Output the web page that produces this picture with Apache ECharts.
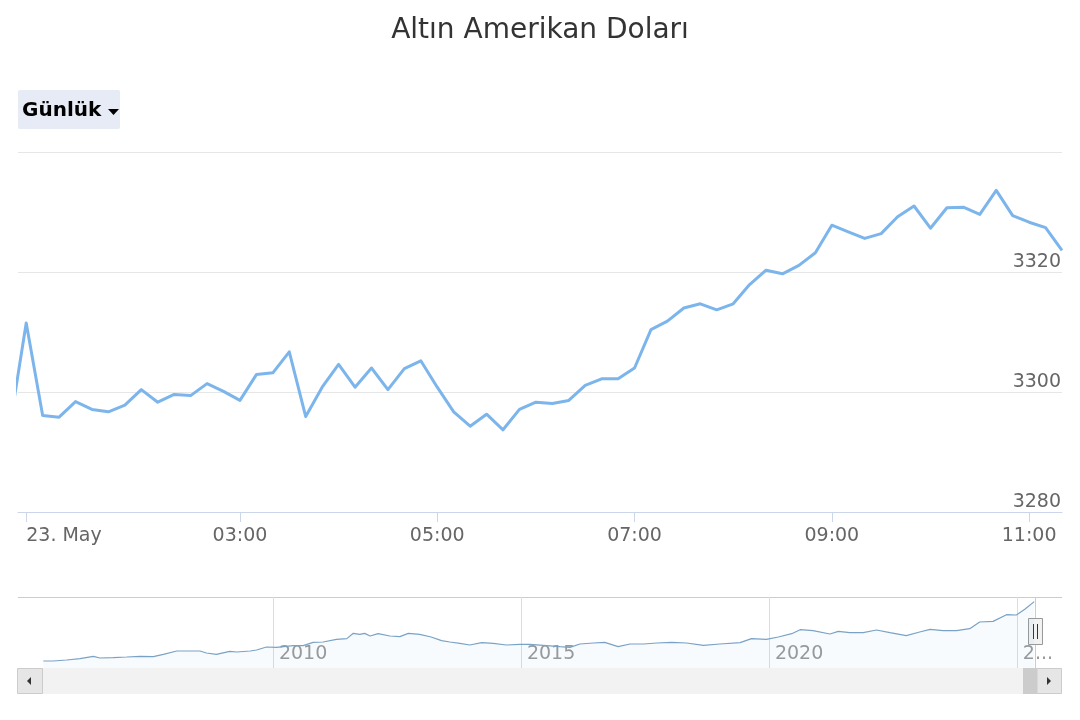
<!DOCTYPE html>
<html><head><meta charset="utf-8">
<script src="https://cdn.jsdelivr.net/npm/echarts@6/dist/echarts.min.js"></script>
<style>html,body{margin:0;padding:0;background:#fff}#c{width:1080px;height:720px}</style>
</head><body><div id="c"></div>
<script>
const chartTitle = 'Altın Amerikan Doları';
const rangeLabel = 'Günlük';

// Intraday prices (ordinal positions, one point every ~10 minutes); first value sits just left of view
const prices = [3294.2, 3311.5, 3296.1, 3295.8, 3298.4, 3297.1, 3296.7, 3297.8, 3300.4, 3298.3,
  3299.6, 3299.4, 3301.4, 3300.1, 3298.6, 3302.9, 3303.2, 3306.7, 3295.9, 3300.8,
  3304.6, 3300.8, 3304.0, 3300.4, 3303.9, 3305.2, 3300.8, 3296.7, 3294.3, 3296.3,
  3293.7, 3297.1, 3298.3, 3298.1, 3298.6, 3301.1, 3302.2, 3302.2, 3304.0, 3310.4,
  3311.8, 3314.0, 3314.7, 3313.7, 3314.7, 3317.9, 3320.3, 3319.7, 3321.1, 3323.2,
  3327.8, 3326.7, 3325.6, 3326.4, 3329.2, 3331.0, 3327.3, 3330.7, 3330.8, 3329.6,
  3333.6, 3329.4, 3328.3, 3327.4, 3323.6];
const firstIndex = -1;
const timeTickIndex = [0, 13, 25, 37, 49, 61];
const timeTickLabels = ['23. May', '03:00', '05:00', '07:00', '09:00', '11:00'];
const priceTicks = [3280, 3300, 3320, 3340];

// Navigator: long-term history (decimal years, USD)
const navYears = [2005.37, 2005.57, 2005.84, 2006.11, 2006.38, 2006.51, 2006.78, 2007.05, 2007.32, 2007.59,
  2007.79, 2008.06, 2008.26, 2008.53, 2008.66, 2008.86, 2009.13, 2009.27, 2009.54, 2009.67,
  2009.87, 2010.07, 2010.41, 2010.61, 2010.81, 2011.01, 2011.28, 2011.49, 2011.62, 2011.75,
  2011.85, 2011.96, 2012.12, 2012.36, 2012.56, 2012.73, 2012.96, 2013.19, 2013.40, 2013.57,
  2013.77, 2013.97, 2014.21, 2014.44, 2014.71, 2014.98, 2015.18, 2015.45, 2015.79, 2015.99,
  2016.19, 2016.46, 2016.69, 2016.96, 2017.20, 2017.47, 2017.74, 2018.04, 2018.34, 2018.68,
  2019.01, 2019.42, 2019.65, 2019.95, 2020.19, 2020.46, 2020.63, 2020.89, 2021.23, 2021.40,
  2021.63, 2021.90, 2022.17, 2022.44, 2022.77, 2023.04, 2023.25, 2023.51, 2023.78, 2024.05,
  2024.25, 2024.52, 2024.79, 2024.99, 2025.16, 2025.35];
const navPrices = [422, 422, 471, 536, 651, 569, 586, 618, 651, 635,
  749, 913, 913, 913, 815, 749, 896, 864, 913, 962,
  1109, 1093, 1174, 1174, 1338, 1354, 1485, 1518, 1779, 1730,
  1779, 1648, 1762, 1648, 1616, 1779, 1730, 1599, 1420, 1354,
  1289, 1207, 1321, 1289, 1207, 1240, 1240, 1191, 1125, 1093,
  1256, 1305, 1338, 1125, 1256, 1256, 1305, 1338, 1305, 1191,
  1256, 1321, 1518, 1485, 1599, 1762, 1958, 1909, 1746, 1877,
  1811, 1811, 1942, 1811, 1664, 1844, 1975, 1909, 1909, 2007,
  2334, 2367, 2694, 2678, 2956, 3333];
const navTickYears = [2010, 2015, 2020, 2025];
const navTickLabels = ['2010', '2015', '2020', '2...'];

const FONT = 'DejaVu Sans';
const mainData = prices.map((v, i) => [firstIndex + i, v]);
const navData = navYears.map((y, i) => [y, navPrices[i]]);

const chart = echarts.init(document.getElementById('c'), null, {renderer: 'canvas'});
const option = {
  animation: false,
  backgroundColor: '#ffffff',
  title: {
    text: chartTitle, left: 'center', top: 12,
    textStyle: {fontFamily: FONT, fontSize: 28, fontWeight: 'normal', color: '#333333'}
  },
  grid: [
    {left: 18, right: 18, top: 152, height: 360},
    {left: 18, right: 18, top: 597, height: 71}
  ],
  xAxis: [
    {
      gridIndex: 0, type: 'value', min: -0.5, max: 63,
      axisLine: {show: true, lineStyle: {color: '#ccd6eb', width: 1}},
      axisTick: {show: true, customValues: timeTickIndex, length: 10, lineStyle: {color: '#ccd6eb'}},
      axisLabel: {
        customValues: timeTickIndex,
        formatter: v => timeTickLabels[timeTickIndex.indexOf(v)],
        fontFamily: FONT, fontSize: 19, color: '#666666', margin: 15,
        alignMinLabel: 'left'
      },
      splitLine: {show: false}
    },
    {
      gridIndex: 1, type: 'value', min: 2004.86, max: 2025.91,
      axisLine: {show: false},
      axisTick: {show: false, customValues: navTickYears},
      axisLabel: {
        customValues: navTickYears, inside: true,
        formatter: v => navTickLabels[navTickYears.indexOf(v)],
        align: 'left', verticalAlign: 'bottom', padding: [0, 0, 0, 6], margin: 4,
        fontFamily: FONT, fontSize: 19, color: '#999999'
      },
      splitLine: {show: true, lineStyle: {color: '#dddddd', width: 1}}
    }
  ],
  yAxis: [
    {
      gridIndex: 0, type: 'value', position: 'right', min: priceTicks[0], max: priceTicks[priceTicks.length - 1], interval: 20,
      axisLine: {show: false}, axisTick: {show: false},
      axisLabel: {
        inside: true, showMaxLabel: false, verticalAlign: 'bottom', margin: 1,
        formatter: v => String(v),
        fontFamily: FONT, fontSize: 19, color: '#666666'
      },
      splitLine: {show: true, lineStyle: {color: '#e6e6e6', width: 1}}
    },
    {gridIndex: 1, type: 'value', min: 80, max: 3560, show: false}
  ],
  series: [
    {
      type: 'line', xAxisIndex: 0, yAxisIndex: 0, data: mainData,
      showSymbol: false, symbol: 'none', clip: true,
      lineStyle: {color: '#7cb5ec', width: 3, join: 'round'}
    },
    {
      type: 'line', xAxisIndex: 1, yAxisIndex: 1, data: navData,
      showSymbol: false, symbol: 'none',
      lineStyle: {color: '#7aa2c6', width: 1.2},
      areaStyle: {color: 'rgba(124,181,236,0.07)', origin: 'start'}
    }
  ],
  graphic: [
    {type: 'rect', shape: {x: 18, y: 90, width: 102, height: 39, r: 2}, style: {fill: '#e6ebf5'}},
    {type: 'text', x: 22, y: 111, style: {text: rangeLabel, font: 'bold 20px "DejaVu Sans"', fill: '#000000', textVerticalAlign: 'middle'}},
    {type: 'polygon', shape: {points: [[108, 109], [119, 109], [113.5, 115]]}, style: {fill: '#000000'}},
    {type: 'line', shape: {x1: 18, y1: 597.5, x2: 1062, y2: 597.5}, style: {stroke: '#cccccc', lineWidth: 1}},
    {type: 'line', shape: {x1: 1035.5, y1: 597, x2: 1035.5, y2: 668}, style: {stroke: '#cccccc', lineWidth: 1}},
    {type: 'rect', shape: {x: 18, y: 668, width: 1044, height: 26}, style: {fill: '#f2f2f2'}},
    {type: 'rect', shape: {x: 17.5, y: 668.5, width: 25, height: 25}, style: {fill: '#e6e6e6', stroke: '#cccccc', lineWidth: 1}},
    {type: 'polygon', shape: {points: [[27, 681], [31, 677], [31, 685]]}, style: {fill: '#333333'}},
    {type: 'rect', shape: {x: 1023, y: 668, width: 14, height: 26}, style: {fill: '#cccccc'}},
    {type: 'rect', shape: {x: 1037, y: 668.5, width: 24.5, height: 25}, style: {fill: '#e6e6e6', stroke: '#cccccc', lineWidth: 1}},
    {type: 'polygon', shape: {points: [[1047, 677], [1051, 681], [1047, 685]]}, style: {fill: '#333333'}},
    {type: 'rect', shape: {x: 1028.5, y: 618.5, width: 14, height: 26}, style: {fill: '#f2f2f2', stroke: '#999999', lineWidth: 1}},
    {type: 'line', shape: {x1: 1033.5, y1: 624, x2: 1033.5, y2: 639}, style: {stroke: '#333333', lineWidth: 1}},
    {type: 'line', shape: {x1: 1037.5, y1: 624, x2: 1037.5, y2: 639}, style: {stroke: '#333333', lineWidth: 1}}
  ]
};
chart.setOption(option);
</script></body></html>
